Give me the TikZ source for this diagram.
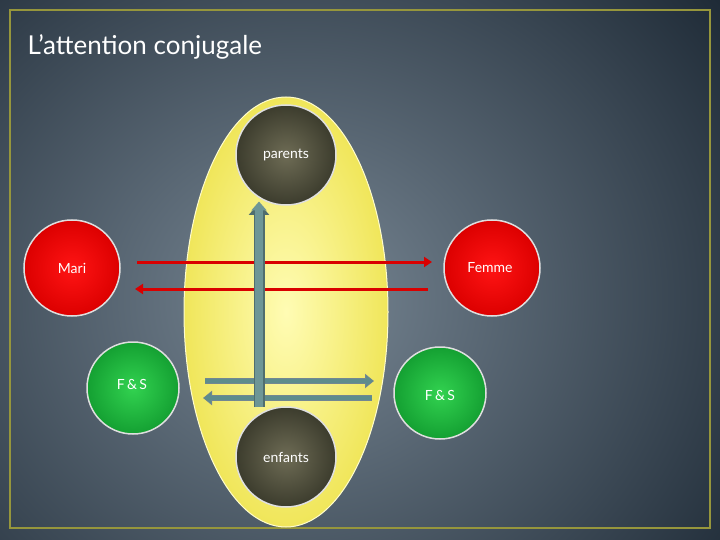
\documentclass[tikz,border=0pt]{standalone}
\usepackage{fontspec}
\setmainfont{Lato}
\usetikzlibrary{arrows.meta,shadings}
\definecolor{olivein}{RGB}{110,108,85}
\definecolor{oliveout}{RGB}{60,60,45}
\definecolor{redin}{RGB}{255,20,20}
\definecolor{redout}{RGB}{220,0,0}
\definecolor{grin}{RGB}{50,210,80}
\definecolor{grout}{RGB}{20,160,50}
\definecolor{bgin}{RGB}{120,135,148}
\definecolor{bgout}{RGB}{28,40,52}
\definecolor{frame}{RGB}{150,150,60}
\definecolor{ylin}{RGB}{255,252,180}
\definecolor{ylout}{RGB}{240,230,90}
\definecolor{vdark}{RGB}{80,110,110}
\definecolor{vlight}{RGB}{110,150,150}
\begin{document}
\begin{tikzpicture}[x=1pt,y=-1pt,
  circ/.style={circle,minimum size=#1,inner sep=0pt,draw=white!75!gray,line width=1.5pt},
  sph/.style 2 args={inner color=#1,outer color=#2},
  lbl/.style={text=white,font=\fontsize{14}{16}\selectfont},
  redarr/.style={draw=red!85!black,line width=3pt,-{Triangle[length=8pt,width=10pt]}},
  grnarr/.style={draw=cyan!30!gray!80!black,line width=6pt,-{Triangle[length=9pt,width=14pt]}},
  grnin/.style={draw=teal!40!gray!90!white,line width=4pt,-{Triangle[length=7pt,width=10pt]}}]
\useasboundingbox (0,0) rectangle (720,540);
\shade[inner color=bgin,outer color=bgout] (-250,-200) rectangle (850,800);
\clip (0,0) rectangle (720,540);
\draw[draw=frame,line width=1.2pt] (10,10) rectangle (710,528);
\node[anchor=west,text=white,font=\fontsize{26}{30}\selectfont] (title) at (24,47) {L’at\-tention conjugale};
\shade[inner color=ylin,outer color=ylout] (286,312) ellipse [x radius=102,y radius=215];
\draw[white!80!yellow,line width=1pt] (286,312) ellipse [x radius=102,y radius=215];
\node[circ=100pt,sph={olivein}{oliveout}] (parents) at (286,155) {};
\node[lbl] at (parents) {parents};
\node[circ=100pt,sph={olivein}{oliveout}] (enfants) at (286,457) {};
\node[lbl] at (enfants) {enfants};
\node[circ=96pt,sph={redin}{redout}] (mari) at (72,268) {};
\node[lbl] at (72,268) {Mari};
\node[circ=96pt,sph={redin}{redout}] (femme) at (492,268) {};
\node[lbl] at (490,268) {Femme};
\node[circ=92pt,sph={grin}{grout}] (fs1) at (133,388) {};
\node[lbl] at (132,384) {F\,\&\,S};
\node[circ=92pt,sph={grin}{grout}] (fs2) at (440,393) {};
\node[lbl] at (440,395) {F\,\&\,S};
\coordinate (r1a) at (137,262); \coordinate (r1b) at (432,262);
\coordinate (r2a) at (428,289); \coordinate (r2b) at (135,289);
\draw[redarr] (r1a) -- (r1b);
\draw[redarr] (r2a) -- (r2b);
\coordinate (g1a) at (205,381); \coordinate (g1b) at (374,381);
\coordinate (g2a) at (372,398); \coordinate (g2b) at (203,398);
\draw[grnarr] (g1a) -- (g1b); \draw[grnin] (g1a) -- ([xshift=-1pt]g1b);
\draw[grnarr] (g2a) -- (g2b); \draw[grnin] (g2a) -- ([xshift=1pt]g2b);
\coordinate (va) at (259,407); \coordinate (vb) at (259,203);
\draw[draw=vdark,line width=11pt,-{Triangle[length=12pt,width=20pt]}] (va) -- (vb);
\draw[draw=vlight,line width=8pt,-{Triangle[length=9pt,width=15pt]}] (va) -- ([yshift=1.5pt]vb);
\end{tikzpicture}
\end{document}
